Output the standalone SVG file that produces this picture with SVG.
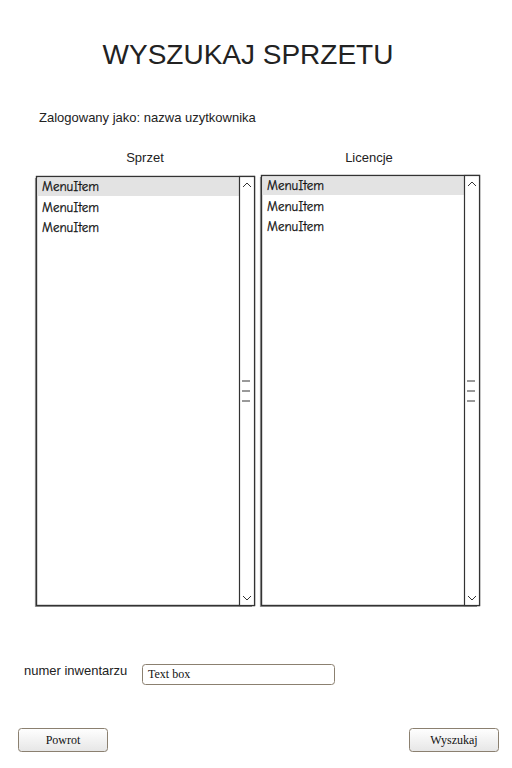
<svg xmlns="http://www.w3.org/2000/svg" width="512" height="768" viewBox="0 0 512 768">
<defs>
<linearGradient id="btn" x1="0" y1="0" x2="0" y2="1">
<stop offset="0" stop-color="#ffffff"/>
<stop offset="1" stop-color="#e6e6e6"/>
</linearGradient>
</defs>
<style>
.lbl{font-family:"Liberation Sans",Arial,sans-serif;fill:#222;}
.item{font-family:"Comic Neue","DejaVu Sans",sans-serif;font-size:13px;fill:#111;stroke:#111;stroke-width:0.25;}
.serif{font-family:"Liberation Serif","Times New Roman",serif;font-size:12px;fill:#111;}
.list{fill:#fff;stroke:#333;stroke-width:1.4;}
.shadow{fill:none;stroke:#999;stroke-width:1.2;}
.sb{fill:#fff;stroke:#333;stroke-width:1.2;}
.grip{stroke:#777;stroke-width:1.5;}
.chev{fill:none;stroke:#333;stroke-width:1;}
.sel{fill:#e3e3e3;}
.btn{fill:url(#btn);stroke:#8b8070;stroke-width:1;}
</style>
<rect width="512" height="768" fill="#fff"/>
<text class="lbl" x="248" y="64" font-size="28" text-anchor="middle" fill="#111">WYSZUKAJ SPRZETU</text>
<text class="lbl" x="39" y="122" font-size="13">Zalogowany jako: nazwa uzytkownika</text>
<text class="lbl" x="145" y="162" font-size="13" text-anchor="middle">Sprzet</text>
<text class="lbl" x="369" y="162" font-size="13" text-anchor="middle">Licencje</text>

<g id="list-sprzet">
<path class="shadow" d="M35.5,178 V606.5 H252"/>
<rect class="list" x="36.5" y="176.5" width="218" height="429"/>
<rect class="sel" x="37.5" y="178" width="201.5" height="18"/>
<rect class="sb" x="239.5" y="176.5" width="15" height="429"/>
<path class="chev" d="M243,187 L247,183 L251,187"/>
<path class="chev" d="M243,596 L247,600 L251,596"/>
<line class="grip" x1="242" y1="381" x2="250" y2="381"/>
<line class="grip" x1="242" y1="391" x2="250" y2="391"/>
<line class="grip" x1="242" y1="401" x2="250" y2="401"/>
<text class="item" x="42" y="191">MenuItem</text>
<text class="item" x="42" y="212">MenuItem</text>
<text class="item" x="42" y="232">MenuItem</text>
</g>

<g id="list-licencje">
<path class="shadow" d="M260.5,177 V606.5 H477"/>
<rect class="list" x="261.5" y="175.5" width="218" height="430"/>
<rect class="sel" x="262.5" y="177" width="201.5" height="18"/>
<rect class="sb" x="464.5" y="175.5" width="15" height="430"/>
<path class="chev" d="M468,186 L472,182 L476,186"/>
<path class="chev" d="M468,596 L472,600 L476,596"/>
<line class="grip" x1="467" y1="381" x2="475" y2="381"/>
<line class="grip" x1="467" y1="391" x2="475" y2="391"/>
<line class="grip" x1="467" y1="401" x2="475" y2="401"/>
<text class="item" x="267" y="190">MenuItem</text>
<text class="item" x="267" y="211">MenuItem</text>
<text class="item" x="267" y="231">MenuItem</text>
</g>

<g id="field-numer">
<text class="lbl" x="24" y="675" font-size="13">numer inwentarzu</text>
<rect x="142.5" y="664.5" width="192" height="20" rx="3" fill="#fff" stroke="#8b8070" stroke-width="1"/>
<text class="serif" x="148" y="678">Text box</text>
</g>

<g id="btn-powrot">
<rect class="btn" x="18.5" y="728.5" width="89" height="23" rx="3"/>
<text class="serif" x="63" y="744" text-anchor="middle">Powrot</text>
</g>

<g id="btn-wyszukaj">
<rect class="btn" x="409.5" y="728.5" width="89" height="23" rx="3"/>
<text class="serif" x="454" y="744" text-anchor="middle">Wyszukaj</text>
</g>
<g id="connectors"/>
</svg>
